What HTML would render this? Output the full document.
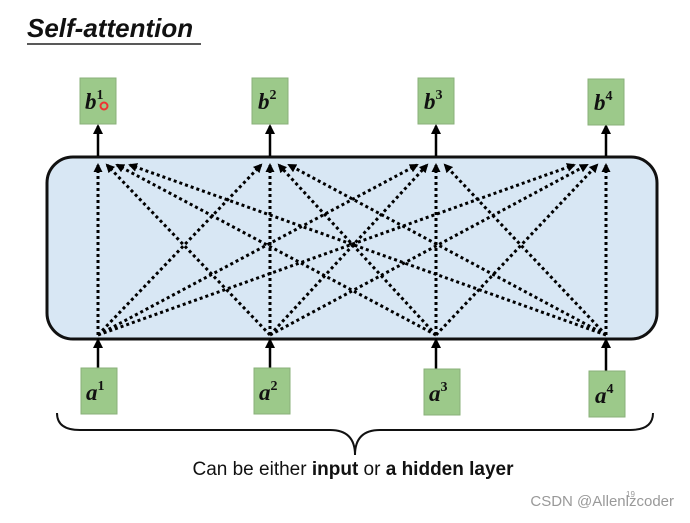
<!DOCTYPE html>
<html><head><meta charset="utf-8"><style>
body{margin:0;background:#fff;width:690px;height:518px;overflow:hidden;font-family:"Liberation Sans",sans-serif}
</style></head><body>
<svg width="690" height="518" xmlns="http://www.w3.org/2000/svg">
<defs>
<marker id="ah" markerWidth="9" markerHeight="9" refX="7" refY="4.5" orient="auto" markerUnits="userSpaceOnUse"><path d="M0,0 L9,4.5 L0,9 Z" fill="#000"/></marker>
<marker id="ah2" markerWidth="10" markerHeight="10" refX="8" refY="5" orient="auto" markerUnits="userSpaceOnUse"><path d="M0,0 L10,5 L0,10 Z" fill="#000"/></marker>
</defs>
<text x="27" y="37" font-size="26" font-weight="bold" font-style="italic" fill="#111">Self-attention</text>
<line x1="27" y1="44" x2="201" y2="44" stroke="#222" stroke-width="1.5"/>
<rect x="47" y="157" width="610" height="182" rx="26" fill="#d8e7f4" stroke="#111" stroke-width="3"/>
<g stroke="#000" stroke-width="3" stroke-dasharray="3 3" fill="none" marker-end="url(#ah)" id="lines"></g>
<g stroke="#000" stroke-width="2.5" marker-end="url(#ah2)">
<line x1="98" y1="156" x2="98" y2="126"/><line x1="270" y1="156" x2="270" y2="126"/><line x1="436" y1="156" x2="436" y2="126"/><line x1="606" y1="156" x2="606" y2="126"/>
<line x1="98" y1="368" x2="98" y2="340"/><line x1="270" y1="368" x2="270" y2="340"/><line x1="436" y1="369" x2="436" y2="340"/><line x1="606" y1="371" x2="606" y2="340"/>
</g>
<g fill="#9cc98a" stroke="#8ab07a" stroke-width="1">
<rect x="80" y="78" width="36" height="46"/><rect x="252" y="78" width="36" height="46"/><rect x="418" y="78" width="36" height="46"/><rect x="588" y="79" width="36" height="46"/>
<rect x="81" y="368" width="36" height="46"/><rect x="254" y="368" width="36" height="46"/><rect x="424" y="369" width="36" height="46"/><rect x="589" y="371" width="36" height="46"/>
</g>
<g font-family="Liberation Serif,serif" font-weight="bold" font-style="italic" font-size="23" fill="#111">
<text x="85" y="109">b<tspan font-size="14" dy="-10" font-style="normal">1</tspan></text>
<text x="258" y="109">b<tspan font-size="14" dy="-10" font-style="normal">2</tspan></text>
<text x="424" y="109">b<tspan font-size="14" dy="-10" font-style="normal">3</tspan></text>
<text x="594" y="110">b<tspan font-size="14" dy="-10" font-style="normal">4</tspan></text>
<text x="86" y="400">a<tspan font-size="14" dy="-10" font-style="normal">1</tspan></text>
<text x="259" y="400">a<tspan font-size="14" dy="-10" font-style="normal">2</tspan></text>
<text x="429" y="401">a<tspan font-size="14" dy="-10" font-style="normal">3</tspan></text>
<text x="595" y="403">a<tspan font-size="14" dy="-10" font-style="normal">4</tspan></text>
</g>
<circle cx="104" cy="106" r="3.5" fill="none" stroke="#e33" stroke-width="2"/>
<path d="M57,413 Q57,430 80,430 L330,430 Q355,430 355,455 Q355,430 380,430 L630,430 Q653,430 653,413" fill="none" stroke="#111" stroke-width="2"/>
<text x="353" y="475" font-size="19" text-anchor="middle" fill="#111">Can be either <tspan font-weight="bold">input</tspan> or <tspan font-weight="bold">a hidden layer</tspan></text>
<text x="674" y="506" font-size="15" text-anchor="end" fill="#999">CSDN @Allenlzcoder</text>
<text x="626" y="497" font-size="8" fill="#999">19</text>
</svg>
<script>
var xs=[98,270,436,606],offs=[0,9,19,32],g=document.getElementById('lines'),h='';
for(var i=0;i<4;i++)for(var j=0;j<4;j++){var d=Math.abs(i-j),off=(i>j?1:-1)*offs[d];
var tx=xs[j]+off,ty=165,bx=xs[i],by=335;
h+='<line x1="'+bx+'" y1="'+by+'" x2="'+tx+'" y2="'+ty+'"/>';}
g.innerHTML=h;
</script>
</body></html>
